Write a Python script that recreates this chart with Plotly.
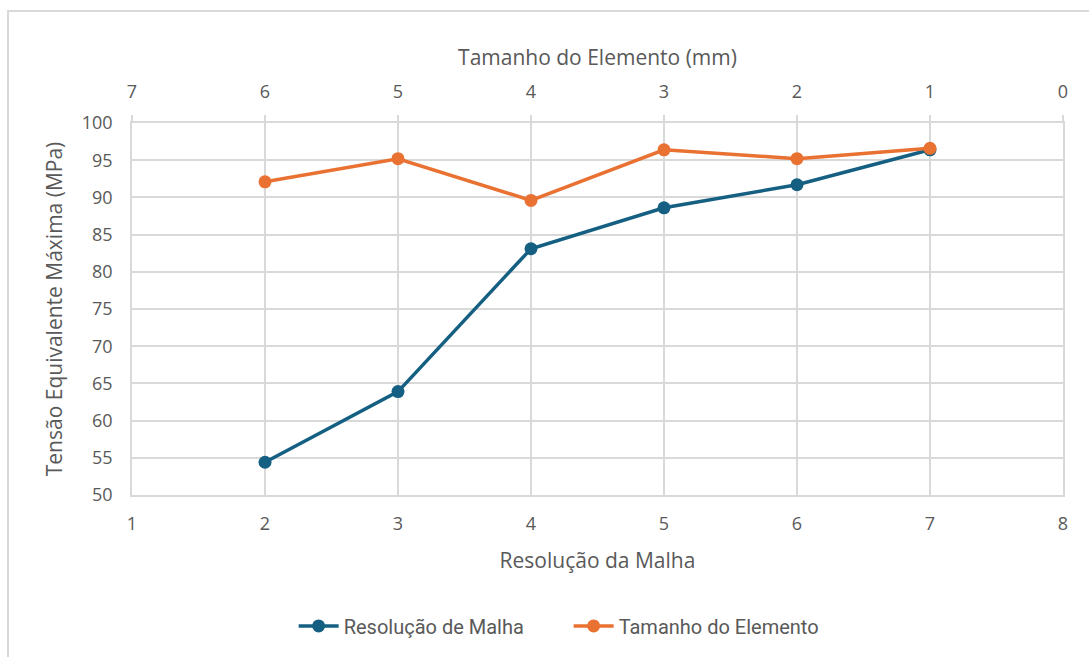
import plotly.graph_objects as go

# Mesh convergence study data
resolucao = [2, 3, 4, 5, 6, 7]
tensao_resolucao = [54.4, 63.9, 83.1, 88.6, 91.7, 96.4]

tamanho_elemento = [6, 5, 4, 3, 2, 1]
tensao_tamanho = [92.1, 95.2, 89.6, 96.4, 95.2, 96.6]

AZUL = "#156082"
LARANJA = "#E97132"
GRADE = "#d9d9d9"
TEXTO = "#595959"
FONTE = "Open Sans, Roboto, sans-serif"

fig = go.Figure()

fig.add_trace(go.Scatter(
    x=resolucao, y=tensao_resolucao, name="Resolução de Malha",
    mode="lines+markers", xaxis="x", yaxis="y",
    line=dict(color=AZUL, width=3.5),
    marker=dict(color=AZUL, size=13),
))
fig.add_trace(go.Scatter(
    x=tamanho_elemento, y=tensao_tamanho, name="Tamanho do Elemento",
    mode="lines+markers", xaxis="x2", yaxis="y",
    line=dict(color=LARANJA, width=3.5),
    marker=dict(color=LARANJA, size=13),
))

fig.update_layout(
    width=1089, height=657,
    margin=dict(l=132, r=26, t=123, b=159),
    paper_bgcolor="white", plot_bgcolor="white",
    font=dict(family=FONTE, size=18, color=TEXTO),
    showlegend=True,
    legend=dict(
        orientation="h", x=0.469, xanchor="center", y=-0.352, yanchor="middle",
        font=dict(family="Roboto, sans-serif", size=20, color=TEXTO),
        itemwidth=40, entrywidth=220, tracegroupgap=0,
    ),
    xaxis=dict(
        range=[1, 8], dtick=1, tick0=1,
        showgrid=True, gridcolor=GRADE, gridwidth=1.5,
        showline=True, linecolor=GRADE, linewidth=1.5,
        zeroline=False, ticks="", ticklabelstandoff=12,
        tickfont=dict(size=18, color=TEXTO),
        title=dict(text="Resolução da Malha", font=dict(size=21, color=TEXTO), standoff=19),
    ),
    xaxis2=dict(
        range=[7, 0], dtick=1, overlaying="x", side="top",
        showgrid=False, showline=True, linecolor=GRADE, linewidth=1.5,
        zeroline=False, ticks="outside", ticklen=6, tickcolor=GRADE, tickwidth=1.5,
        ticklabelstandoff=10,
        tickfont=dict(size=18, color=TEXTO),
        title=dict(text="Tamanho do Elemento (mm)", font=dict(size=21, color=TEXTO), standoff=8),
    ),
    yaxis=dict(
        range=[50, 100], dtick=5, tick0=50,
        showgrid=True, gridcolor=GRADE, gridwidth=1.5,
        showline=True, linecolor=GRADE, linewidth=1.5, mirror=True,
        zeroline=False, ticks="", ticklabelstandoff=14,
        tickfont=dict(size=18, color=TEXTO),
        title=dict(text="Tensão Equivalente Máxima (MPa)", font=dict(size=21, color=TEXTO), standoff=13),
    ),
    shapes=[dict(
        type="rect", xref="paper", yref="paper",
        x0=(8 - 132) / 931, x1=(1100 - 132) / 931,
        y0=(498 - 670) / 375, y1=(498 - 10) / 375,
        line=dict(color=GRADE, width=2), fillcolor="rgba(0,0,0,0)", layer="below",
    )],
)

fig.write_html("out.html")
